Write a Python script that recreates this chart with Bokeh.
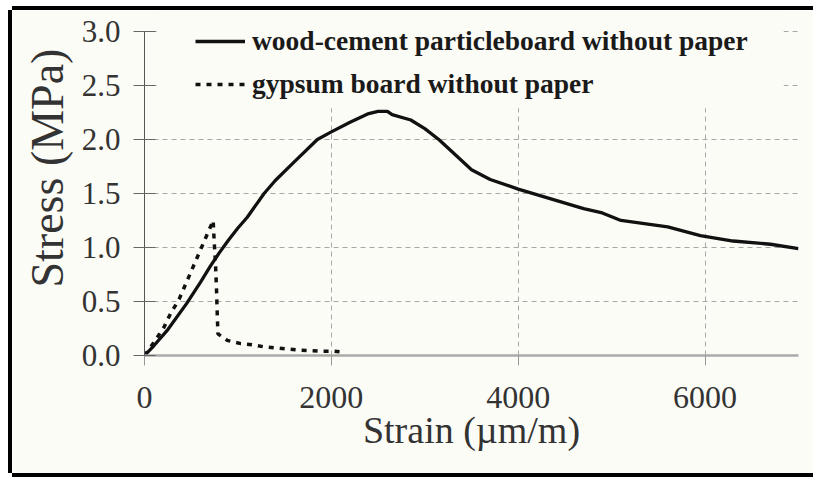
from bokeh.plotting import figure
from bokeh.models import Legend, LegendItem, BoxAnnotation, FixedTicker, Range1d, PrintfTickFormatter, Title
from bokeh.embed import file_html
from bokeh.resources import INLINE

# wood-cement particleboard without paper
strain_wcp = [0, 100, 250, 450, 600, 700, 800, 900, 1000, 1100, 1280, 1400, 1600, 1850, 2000,
              2200, 2400, 2500, 2600, 2650, 2850, 3000, 3150, 3350, 3500, 3700, 4000, 4350,
              4700, 4900, 5100, 5600, 5950, 6300, 6700, 7000]
stress_wcp = [0.0, 0.09, 0.24, 0.48, 0.68, 0.82, 0.95, 1.07, 1.18, 1.28, 1.50, 1.62, 1.79, 2.00, 2.07,
              2.16, 2.24, 2.26, 2.26, 2.23, 2.18, 2.10, 2.00, 1.84, 1.72, 1.63, 1.54, 1.45,
              1.36, 1.32, 1.25, 1.19, 1.11, 1.06, 1.03, 0.99]

# gypsum board without paper
strain_gyp = [0, 100, 207, 280, 370, 440, 510, 580, 660, 735, 745, 760, 770, 778, 786, 886,
              1030, 1150, 1280, 1400, 1530, 1650, 1780, 1900, 2030, 2140]
stress_gyp = [0.0, 0.12, 0.26, 0.39, 0.52, 0.66, 0.80, 0.94, 1.10, 1.25, 1.07, 0.85, 0.63, 0.40, 0.20, 0.14,
              0.11, 0.10, 0.08, 0.07, 0.06, 0.05, 0.046, 0.04, 0.04, 0.03]

x_ticks = [0, 2000, 4000, 6000]
y_ticks = [0.0, 0.5, 1.0, 1.5, 2.0, 2.5, 3.0]
label_wcp = "wood-cement particleboard without paper"
label_gyp = "gypsum board without paper"
x_title = "Strain (\u00b5m/m)"
y_title = "Stress (MPa)"

BG = "#fcfcf6"
FONT = "Liberation Serif"

p = figure(width=801, height=463, output_backend="svg", toolbar_location=None,
           x_range=Range1d(0, 7000), y_range=Range1d(0, 3.194),
           min_border_left=132, min_border_right=15, min_border_top=0, min_border_bottom=118,
           background_fill_color=BG, border_fill_color=BG)
p.outline_line_color = None
p.styles = {"margin-left": "12px", "margin-top": "10px",
            "box-shadow": "-4px 0 0 0 #000, 0 -4px 0 0 #000, 0 4px 0 0 #000"}

# grids
p.xgrid.ticker = FixedTicker(ticks=x_ticks)
p.ygrid.ticker = FixedTicker(ticks=y_ticks)
p.xgrid.bounds = (0, 3.0)
for g in (p.xgrid, p.ygrid):
    g.grid_line_color = "#a8a8a8"
    g.grid_line_dash = "5 4"
    g.grid_line_width = 1

# cover behind legend (gridlines hidden there)
p.add_layout(BoxAnnotation(left=130, right=6840, bottom=2.29, top=3.4, fill_color=BG,
                           fill_alpha=1.0, line_color=None, level="underlay"))

# axes
xa = p.xaxis[0]
xa.ticker = FixedTicker(ticks=x_ticks)
xa.axis_line_color = "#aaaaaa"
xa.axis_line_width = 2.5
xa.major_tick_in = 0
xa.major_tick_out = 10
xa.major_tick_line_color = "#999999"
xa.minor_tick_line_color = None
xa.major_label_text_font = FONT
xa.major_label_text_font_size = "32px"
xa.major_label_text_color = "#333333"
xa.major_label_standoff = 21
xa.axis_label = x_title
xa.axis_label_text_font = FONT
xa.axis_label_text_font_size = "38px"
xa.axis_label_text_font_style = "normal"
xa.axis_label_text_color = "#333333"
xa.axis_label_standoff = -2

ya = p.yaxis[0]
ya.bounds = (0, 3.0)
ya.ticker = FixedTicker(ticks=y_ticks)
ya.formatter = PrintfTickFormatter(format="%.1f")
ya.axis_line_color = "#555555"
ya.axis_line_width = 1
ya.major_tick_in = 11
ya.major_tick_out = 11
ya.major_tick_line_color = "#666666"
ya.minor_tick_line_color = None
ya.major_label_text_font = FONT
ya.major_label_text_font_size = "31px"
ya.major_label_text_color = "#333333"
ya.major_label_standoff = 13

yt = Title(text=y_title, align="left", offset=68, standoff=11,
           text_font=FONT, text_font_size="46px", text_font_style="normal",
           text_color="#333333")
p.add_layout(yt, "left")

r1 = p.line(strain_wcp, stress_wcp, line_color="#111111", line_width=3.3)
r2 = p.line(strain_gyp, stress_gyp, line_color="#111111", line_width=3.5, line_dash="5 6")

legend = Legend(items=[LegendItem(label=label_wcp, renderers=[r1]),
                       LegendItem(label=label_gyp, renderers=[r2])],
                location=(51, 253), padding=6, margin=0, spacing=7,
                glyph_width=50, glyph_height=36, label_height=36, label_standoff=7,
                background_fill_alpha=0.0, border_line_color=None,
                label_text_font=FONT, label_text_font_size="27.5px", label_text_font_style="bold",
                label_text_color="#1a1a1a")
p.add_layout(legend)

open("out.html", "w").write(file_html(p, INLINE))
